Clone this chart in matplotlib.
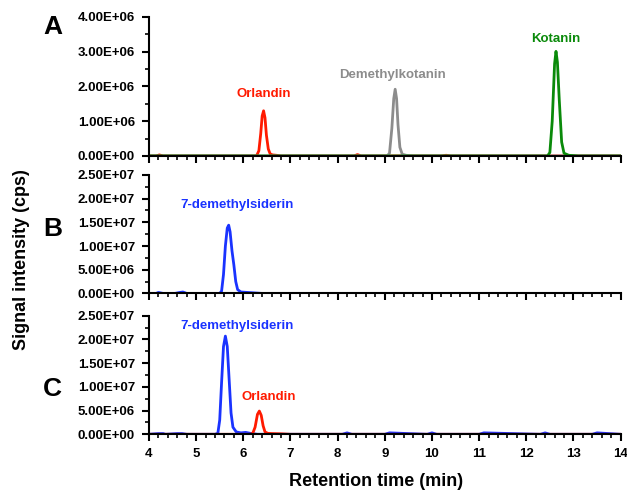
import matplotlib
matplotlib.use('Agg')
import matplotlib.pyplot as plt
from matplotlib.ticker import FuncFormatter, MultipleLocator

plt.rcParams['font.family'] = ['Liberation Sans', 'DejaVu Sans']
plt.rcParams['font.weight'] = 'bold'

# Panel A: standards
a_orl_t = [4.0, 4.15, 4.22, 4.3, 6.0, 6.28, 6.33, 6.37, 6.40, 6.43, 6.46, 6.49, 6.53, 6.57, 6.62, 6.7, 6.8, 8.35, 8.42, 8.5, 10.2, 10.3, 10.4, 14.0]
a_orl_y = [0, 0, 3e4, 0, 0, 0, 1.5e5, 6.5e5, 1.15e6, 1.3e6, 1.1e6, 6e5, 2e5, 6e4, 3e4, 2e4, 0, 0, 4e4, 0, 0, 2e4, 0, 0]
a_dmk_t = [4.0, 9.05, 9.1, 9.15, 9.19, 9.22, 9.25, 9.28, 9.32, 9.37, 9.45, 9.6, 14.0]
a_dmk_y = [0, 0, 8e4, 8e5, 1.65e6, 1.92e6, 1.65e6, 9e5, 2.5e5, 5e4, 2e4, 0, 0]
a_kot_t = [4.0, 12.45, 12.5, 12.55, 12.6, 12.63, 12.66, 12.7, 12.75, 12.8, 12.9, 13.1, 14.0]
a_kot_y = [0, 0, 1e5, 1.0e6, 2.65e6, 3.01e6, 2.7e6, 1.6e6, 4e5, 8e4, 2e4, 0, 0]

# Panel B
b_blue_t = [4.0, 4.15, 4.2, 4.3, 4.55, 4.65, 4.72, 4.8, 5.5, 5.54, 5.58, 5.62, 5.66, 5.69, 5.72, 5.76, 5.8, 5.84, 5.88, 5.95, 6.1, 6.4, 14.0]
b_blue_y = [0, 0, 2e5, 0, 0, 2e5, 3e5, 0, 0, 5e5, 4e6, 1.0e7, 1.38e7, 1.44e7, 1.3e7, 9e6, 6e6, 2.5e6, 8e5, 3e5, 2e5, 0, 0]
b_red_t = [4.0, 14.0]
b_red_y = [0, 0]

# Panel C
c_blue_t = [4.0, 4.2, 4.3, 4.35, 4.6, 4.7, 4.8, 5.4, 5.46, 5.5, 5.54, 5.58, 5.62, 5.66, 5.7, 5.74, 5.78, 5.85, 5.95, 6.05, 6.15, 6.3,
            8.1, 8.2, 8.3, 9.0, 9.1, 9.9, 10.0, 10.1, 11.0, 11.1, 12.3, 12.4, 12.5, 13.4, 13.5, 14.0]
c_blue_y = [0, 1.5e5, 1.5e5, 0, 1.5e5, 1.5e5, 0, 0, 2e5, 3e6, 1.1e7, 1.85e7, 2.07e7, 1.85e7, 1.15e7, 4.5e6, 1.5e6, 5e5, 3e5, 4e5, 2e5, 0,
            0, 3e5, 0, 0, 3e5, 0, 3e5, 0, 0, 3e5, 0, 3e5, 0, 0, 3e5, 0]
c_red_t = [4.0, 6.15, 6.2, 6.25, 6.3, 6.34, 6.38, 6.42, 6.46, 6.52, 6.6, 6.8, 7.0, 14.0]
c_red_y = [0, 0, 2e5, 1.5e6, 4.2e6, 4.9e6, 4.0e6, 1.8e6, 5e5, 2e5, 1.5e5, 1e5, 0, 0]

red = '#ff1a00'
blue = '#1a33ff'
gray = '#8c8c8c'
green = '#0a8a0a'
lw = 2.0

fig = plt.figure(figsize=(6.27, 4.92), dpi=100)
left, width = 0.2376, 0.7522
axA = fig.add_axes([left, 0.683, width, 0.2825])
axB = fig.add_axes([left, 0.4036, width, 0.2408])
axC = fig.add_axes([left, 0.1173, width, 0.2410])

axA.plot(a_orl_t, a_orl_y, color=red, lw=lw)
axA.plot(a_dmk_t, a_dmk_y, color=gray, lw=lw)
axA.plot(a_kot_t, a_kot_y, color=green, lw=lw)
axA.set_ylim(0, 4e6)
axA.yaxis.set_major_locator(MultipleLocator(1e6))
axA.yaxis.set_minor_locator(MultipleLocator(5e5))
axA.text(6.43, 1.77e6, 'Orlandin', color=red, fontsize=9.5, ha='center', va='center')
axA.text(9.17, 2.32e6, 'Demethylkotanin', color=gray, fontsize=9.5, ha='center', va='center')
axA.text(12.63, 3.37e6, 'Kotanin', color=green, fontsize=9.5, ha='center', va='center')

axB.plot(b_blue_t, b_blue_y, color=blue, lw=lw)
axB.plot(b_red_t, b_red_y, color=red, lw=lw)
axB.text(5.86, 1.87e7, '7-demethylsiderin', color=blue, fontsize=9.5, ha='center', va='center')

axC.plot(c_blue_t, c_blue_y, color=blue, lw=lw)
axC.plot(c_red_t, c_red_y, color=red, lw=lw)
axC.text(5.86, 2.28e7, '7-demethylsiderin', color=blue, fontsize=9.5, ha='center', va='center')
axC.text(6.54, 7.9e6, 'Orlandin', color=red, fontsize=9.5, ha='center', va='center')

for ax in (axB, axC):
    ax.set_ylim(0, 2.5e7)
    ax.yaxis.set_major_locator(MultipleLocator(5e6))
    ax.yaxis.set_minor_locator(MultipleLocator(2.5e6))

sci = FuncFormatter(lambda v, p: f'{v:.2E}')
for ax in (axA, axB, axC):
    ax.set_xlim(4, 14)
    ax.xaxis.set_major_locator(MultipleLocator(1))
    ax.xaxis.set_minor_locator(MultipleLocator(0.2))
    ax.yaxis.set_major_formatter(sci)
    ax.spines['top'].set_visible(False)
    ax.spines['right'].set_visible(False)
    ax.spines['left'].set_linewidth(1.5)
    ax.spines['bottom'].set_linewidth(1.5)
    ax.tick_params(which='major', direction='out', length=5, width=1.5, labelsize=9.5, pad=5)
    ax.tick_params(which='minor', direction='out', length=3, width=1.2)

axA.tick_params(axis='x', labelbottom=False)
axB.tick_params(axis='x', labelbottom=False)

fig.text(0.599, 0.022, 'Retention time (min)', fontsize=13, fontweight='bold', ha='center', va='center')
fig.text(0.0343, 0.4715, 'Signal intensity (cps)', rotation=90, fontsize=13, fontweight='bold', ha='center', va='center')
fig.text(0.085, 0.945, 'A', fontsize=19, fontweight='bold', ha='center', va='center')
fig.text(0.084, 0.535, 'B', fontsize=19, fontweight='bold', ha='center', va='center')
fig.text(0.083, 0.209, 'C', fontsize=19, fontweight='bold', ha='center', va='center')

fig.savefig('out.png', dpi=100)
